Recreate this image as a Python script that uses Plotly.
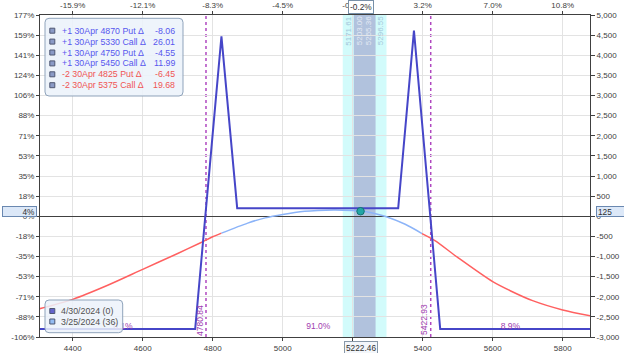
import plotly.graph_objects as go

# ---------------- data ----------------
x_ticks = [4400, 4600, 4800, 5000, 5200, 5400, 5600, 5800]
top_pct_labels = ['-15.9%', '-12.1%', '-8.3%', '-4.5%', '-0.6%', '3.2%', '7.0%', '10.8%']
y_ticks = [-3000, -2500, -2000, -1500, -1000, -500, 0, 500, 1000, 1500, 2000, 2500, 3000, 3500, 4000, 4500, 5000]
left_pct_labels = ['-106%', '-88%', '-71%', '-53%', '-35%', '-18%', '0%', '18%', '35%', '53%', '71%', '88%',
                   '106%', '124%', '141%', '159%', '177%']
right_labels = ['-3,000', '-2,500', '-2,000', '-1,500', '-1,000', '-500', '0', '500', '1,000', '1,500', '2,000',
                '2,500', '3,000', '3,500', '4,000', '4,500', '5,000']

# P&L at expiration (4/30/2024)
exp_x = [4300, 4750, 4825, 4870, 5330, 5375, 5450, 5880]
exp_y = [-2800, -2800, 4470, 200, 200, 4610, -2800, -2800]

# P&L today (3/25/2024, T+36)
t0_x = [4300, 4400, 4500, 4600, 4700, 4764, 4800, 4825, 4900, 4950, 5000, 5063, 5100, 5150, 5200,
        5222.46, 5250, 5292, 5350, 5398, 5435, 5500, 5600, 5650, 5714, 5800, 5880]
t0_y = [-2310, -2065, -1715, -1320, -925, -665, -510, -420, -170, -40, 45, 124, 145, 155, 140,
        125, 95, 0, -200, -430, -606, -1024, -1625, -1850, -2097, -2328, -2475]
red_left_end = 4825
red_right_start = 5398

current_price = 5222.46
current_value = 125
current_pct_label = '-0.2%'
current_left_label = '4%'

band_outer = [5171.61, 5296.55]
band_inner = [5203.00, 5265.36]

breakevens = [4780.84, 5422.93]
x_min, x_max = 4306.6, 5878
prob_labels = ['0.1%', '91.0%', '8.9%']

leg_texts = ['+1 30Apr 4870 Put Δ', '+1 30Apr 5330 Call Δ', '+1 30Apr 4750 Put Δ',
             '+1 30Apr 5450 Call Δ', '-2 30Apr 4825 Put Δ', '-2 30Apr 5375 Call Δ']
leg_qty = [1, 1, 1, 1, -2, -2]
leg_deltas = ['-8.06', '26.01', '-4.55', '11.99', '-6.45', '19.68']

date_labels = ['4/30/2024 (0)', '3/25/2024 (36)']

# ---------------- styling ----------------
FONT = 'Liberation Sans, Arial, sans-serif'
EXP_C = '#4646c8'
T0_BLUE = '#8cb4f8'
T0_RED = '#ff6060'
PURPLE = '#b048c0'
PURPLE_T = '#a03cb0'
AX = '#404040'
GRID = '#e3e3e3'

W, H = 624, 353
L, R, T, B = 40, 34, 15, 16
PW, PH = W - L - R, H - T - B


def X(px):
    return (px - L) / PW


def Y(py):
    return (H - B - py) / PH


def rrect(x0, y0, x1, y1, r):
    return (f"M {X(x0 + r)},{Y(y0)} L {X(x1 - r)},{Y(y0)} Q {X(x1)},{Y(y0)} {X(x1)},{Y(y0 + r)} "
            f"L {X(x1)},{Y(y1 - r)} Q {X(x1)},{Y(y1)} {X(x1 - r)},{Y(y1)} "
            f"L {X(x0 + r)},{Y(y1)} Q {X(x0)},{Y(y1)} {X(x0)},{Y(y1 - r)} "
            f"L {X(x0)},{Y(y0 + r)} Q {X(x0)},{Y(y0)} {X(x0 + r)},{Y(y0)} Z")


fig = go.Figure()

# T+0 curve split into red / blue parts
lx = [x for x in t0_x if x <= red_left_end]
ly = [y for x, y in zip(t0_x, t0_y) if x <= red_left_end]
mx = [x for x in t0_x if red_left_end <= x <= red_right_start]
my = [y for x, y in zip(t0_x, t0_y) if red_left_end <= x <= red_right_start]
rx = [x for x in t0_x if x >= red_right_start]
ry = [y for x, y in zip(t0_x, t0_y) if x >= red_right_start]
for xs, ys, c in [(lx, ly, T0_RED), (mx, my, T0_BLUE), (rx, ry, T0_RED)]:
    fig.add_trace(go.Scatter(x=xs, y=ys, mode='lines', line=dict(color=c, width=1.5, shape='spline', smoothing=0.8),
                             hoverinfo='skip', showlegend=False))

fig.add_trace(go.Scatter(x=exp_x, y=exp_y, mode='lines', line=dict(color=EXP_C, width=2),
                         hoverinfo='skip', showlegend=False))

fig.add_trace(go.Scatter(x=[current_price], y=[current_value], mode='markers',
                         marker=dict(size=7.5, color='#22a6a6', line=dict(color='#137272', width=1)),
                         hoverinfo='skip', showlegend=False))

# probability labels (midpoints of regions)
edges = [x_min] + breakevens + [x_max]
mids = [(edges[i] + edges[i + 1]) / 2 for i in range(3)]
fig.add_trace(go.Scatter(x=mids, y=[-2743] * 3, mode='text', text=prob_labels,
                         textfont=dict(family=FONT, size=8.5, color=PURPLE_T),
                         hoverinfo='skip', showlegend=False))

# invisible trace for secondary axes
fig.add_trace(go.Scatter(x=[x_min, x_max], y=[y_ticks[0], y_ticks[-1]], xaxis='x2', yaxis='y2',
                         mode='markers', marker=dict(opacity=0), hoverinfo='skip', showlegend=False))

shapes = []
# bands
shapes.append(dict(type='rect', xref='x', yref='paper', x0=band_outer[0], x1=band_outer[1], y0=0, y1=1,
                   fillcolor='#d2fbfb', line=dict(width=0), layer='below'))
shapes.append(dict(type='rect', xref='x', yref='paper', x0=band_inner[0], x1=band_inner[1], y0=0, y1=1,
                   fillcolor='#b1c2dd', line=dict(width=0), layer='below'))
# breakeven dashed lines
for be in breakevens:
    shapes.append(dict(type='line', xref='x', yref='paper', x0=be, x1=be, y0=0, y1=1,
                       line=dict(color=PURPLE, width=1.5, dash='3px,3px'), layer='between'))
# legend boxes
shapes.append(dict(type='path', xref='paper', yref='paper', path=rrect(45, 18.3, 183, 96, 4),
                   fillcolor='rgba(236,242,250,0.88)', line=dict(color='#8fa3bb', width=1), layer='above'))
shapes.append(dict(type='path', xref='paper', yref='paper', path=rrect(45, 300, 122.7, 332.7, 4),
                   fillcolor='rgba(236,242,250,0.85)', line=dict(color='#8fa3bb', width=1), layer='above'))

annotations = []
row0, step = 30.7, 10.9
for i, (t, q, d) in enumerate(zip(leg_texts, leg_qty, leg_deltas)):
    yy = row0 + i * step
    col = '#5757ee' if q > 0 else '#f05454'
    shapes.append(dict(type='rect', xref='paper', yref='paper', x0=X(49.8), x1=X(54.8), y0=Y(yy + 2.5),
                       y1=Y(yy - 2.5), fillcolor='#8a9ac6', line=dict(color='#4f5872', width=1), layer='above'))
    annotations.append(dict(xref='paper', yref='paper', x=X(59.5), y=Y(yy), text=t, showarrow=False,
                            xanchor='left', yanchor='middle', font=dict(family=FONT, size=8.8, color=col)))
    annotations.append(dict(xref='paper', yref='paper', x=X(176.5), y=Y(yy), text=d, showarrow=False,
                            xanchor='right', yanchor='middle', font=dict(family=FONT, size=8.8, color=col)))

date_cols = ['#6464cc', '#94bcf2']
for i, (t, c) in enumerate(zip(date_labels, date_cols)):
    yy = 311 + i * 10.5
    shapes.append(dict(type='rect', xref='paper', yref='paper', x0=X(49.8), x1=X(54.8), y0=Y(yy + 2.5),
                       y1=Y(yy - 2.5), fillcolor=c, line=dict(color='#4f5872', width=1), layer='above'))
    annotations.append(dict(xref='paper', yref='paper', x=X(58.5), y=Y(yy), text=t, showarrow=False,
                            xanchor='left', yanchor='middle', font=dict(family=FONT, size=8.8, color='#505050')))

# band edge labels
band_lbls = [(band_outer[0], 6, '#a2c6da'), (band_inner[0], 6.4, '#e4eaf4'),
             (band_inner[1], -6.3, '#e4eaf4'), (band_outer[1], -5.3, '#a2c6da')]
for v, sh, c in band_lbls:
    annotations.append(dict(xref='x', yref='paper', x=v, xshift=sh, y=Y(31), text=f'{v:.2f}', textangle=-90,
                            showarrow=False, xanchor='center', yanchor='middle',
                            font=dict(family=FONT, size=8, color=c)))
# breakeven labels
for v, sh in zip(breakevens, [-6, -6.7]):
    annotations.append(dict(xref='x', yref='paper', x=v, xshift=sh, y=Y(320), text=f'{v:.2f}', textangle=-90,
                            showarrow=False, xanchor='center', yanchor='middle',
                            font=dict(family=FONT, size=8.5, color=PURPLE_T)))

# current price boxes
annotations.append(dict(xref='x', yref='paper', x=current_price, y=Y(7), text=current_pct_label,
                        showarrow=False, xanchor='center', yanchor='middle', bgcolor='#ffffff',
                        bordercolor='#7890a8', borderwidth=1, borderpad=1,
                        font=dict(family=FONT, size=8.3, color='#303030')))
annotations.append(dict(xref='x', yref='paper', x=current_price, y=Y(348), text=f'{current_price:.2f}',
                        showarrow=False, xanchor='center', yanchor='middle', bgcolor='#f3f6fa',
                        bordercolor='#8898a8', borderwidth=1, borderpad=1,
                        font=dict(family=FONT, size=8.3, color='#303030')))
annotations.append(dict(xref='paper', yref='y', x=X(37), y=current_value, text=current_left_label,
                        showarrow=False, xanchor='right', yanchor='middle', align='right', width=31, height=7,
                        bgcolor='#dce8f8', bordercolor='#6a88b0', borderwidth=1, borderpad=1,
                        font=dict(family=FONT, size=8.3, color='#303030')))
annotations.append(dict(xref='paper', yref='y', x=X(596), y=current_value, text=str(current_value),
                        showarrow=False, xanchor='left', yanchor='middle', align='left', width=34, height=7,
                        bgcolor='#dce8f8', bordercolor='#6a88b0', borderwidth=1, borderpad=1,
                        font=dict(family=FONT, size=8.3, color='#303030')))

tickfont = dict(family=FONT, size=8, color=AX)
fig.update_layout(
    width=W, height=H, margin=dict(l=L, r=R, t=T, b=B), template='none',
    paper_bgcolor='white', plot_bgcolor='white', showlegend=False,
    xaxis=dict(range=[x_min, x_max], tickvals=x_ticks, ticktext=[str(v) for v in x_ticks],
               showline=True, linecolor=AX, linewidth=1, ticks='outside', ticklen=3, tickcolor=AX,
               showgrid=True, gridcolor=GRID, gridwidth=1, zeroline=False, tickfont=tickfont),
    xaxis2=dict(range=[x_min, x_max], overlaying='x', side='top', tickvals=x_ticks, ticktext=top_pct_labels,
                showline=True, linecolor=AX, linewidth=1, ticks='outside', ticklen=3, tickcolor=AX,
                showgrid=False, zeroline=False, tickfont=tickfont),
    yaxis=dict(range=[y_ticks[0], y_ticks[-1]], tickvals=y_ticks, ticktext=left_pct_labels,
               showline=True, linecolor=AX, linewidth=1, ticks='outside', ticklen=3, tickcolor=AX,
               showgrid=True, gridcolor=GRID, gridwidth=1, zeroline=True, zerolinecolor=AX, zerolinewidth=1,
               tickfont=tickfont),
    yaxis2=dict(range=[y_ticks[0], y_ticks[-1]], overlaying='y', side='right', tickvals=y_ticks,
                ticktext=right_labels, showline=True, linecolor=AX, linewidth=1, ticks='outside', ticklen=4,
                tickcolor=AX, showgrid=False, zeroline=False, tickfont=tickfont),
    shapes=shapes, annotations=annotations,
)

fig.write_html('out.html')
